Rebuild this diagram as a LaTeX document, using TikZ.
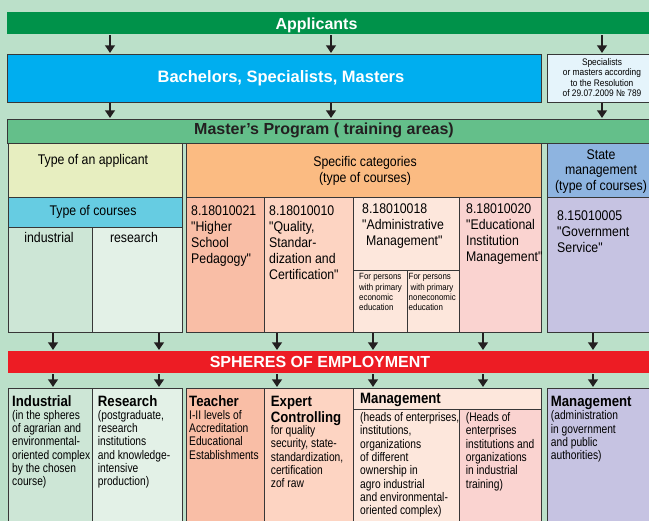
\documentclass[tikz,border=0pt]{standalone}
\usepackage{fontspec}
\setmainfont{Liberation Sans}
\newfontfamily\nfont[FakeStretch=0.88]{Liberation Sans}
\newfontfamily\cfont[FakeStretch=0.82]{Liberation Sans}
\usetikzlibrary{arrows.meta}
% first line of a stack sits on the node's base
\newcommand{\stackL}[1]{\begin{tabular}[t]{@{}l@{}}#1\end{tabular}}
\newcommand{\stackC}[1]{\begin{tabular}[t]{@{}c@{}}#1\end{tabular}}

\definecolor{bgmint}{RGB}{187,224,201}
\definecolor{appgreen}{RGB}{0,146,74}
\definecolor{bachblue}{RGB}{0,174,239}
\definecolor{specpale}{RGB}{229,244,251}
\definecolor{mastgreen}{RGB}{100,191,138}
\definecolor{typeyel}{RGB}{231,238,192}
\definecolor{coursecyan}{RGB}{102,204,226}
\definecolor{indgreen}{RGB}{205,230,214}
\definecolor{resgreen}{RGB}{227,241,231}
\definecolor{catorange}{RGB}{251,187,130}
\definecolor{hsped}{RGB}{249,190,166}
\definecolor{qualpink}{RGB}{253,212,194}
\definecolor{admpale}{RGB}{253,231,220}
\definecolor{edupink}{RGB}{250,211,208}
\definecolor{statehead}{RGB}{142,180,224}
\definecolor{statebody}{RGB}{198,195,226}
\definecolor{sphred}{RGB}{237,28,36}
\definecolor{linegray}{RGB}{55,55,55}
\definecolor{arrowblack}{RGB}{35,31,32}

\begin{document}
\begin{tikzpicture}[x=1pt,y=-1pt,
  cell/.style={draw=linegray,line width=0.9pt,inner sep=0pt,outer sep=0pt,anchor=north west},
  band/.style={inner sep=0pt,outer sep=0pt,anchor=north west},
  down/.style={line width=2.6pt,draw=arrowblack,shorten <=1.5pt,shorten >=1pt,-{Triangle[width=9.5pt,length=7.5pt]}},
  bigw/.style={text=white,font=\bfseries\fontsize{16}{18}\selectfont,anchor=base,inner sep=0pt},
  ttl/.style={font=\nfont\fontsize{14}{15.7}\selectfont,inner sep=0pt,anchor=base},
  lab/.style={font=\nfont\fontsize{14}{16}\selectfont,inner sep=0pt,anchor=base west},
  note/.style={font=\nfont\fontsize{9}{10.3}\selectfont,inner sep=0pt,anchor=base west},
  bhead/.style={font=\nfont\bfseries\fontsize{15}{15}\selectfont,inner sep=0pt,anchor=base west},
  body/.style={font=\cfont\fontsize{12.5}{13.3}\selectfont,inner sep=0pt,anchor=base west}]
  \useasboundingbox (0,0) rectangle (649,521);
  \clip (0,0) rectangle (649,521);
  \fill[bgmint] (0,0) rectangle (649,521);

  % top rows
  \node[band,fill=appgreen,minimum width=660,minimum height=22] (app) at (7,12) {};
  \node[cell,fill=bachblue,minimum width=534,minimum height=48] (bach) at (7,54) {};
  \node[cell,fill=specpale,minimum width=110,minimum height=48] (spec) at (547,54) {};
  \node[cell,fill=mastgreen,minimum width=660,minimum height=24] (mast) at (7,119) {};

  % training areas
  \node[cell,fill=typeyel,minimum width=174,minimum height=54] (typeap) at (8,143) {};
  \node[cell,fill=coursecyan,minimum width=174,minimum height=30] (courses) at (8,197) {};
  \node[cell,fill=indgreen,minimum width=84,minimum height=105] (ind) at (8,227) {};
  \node[cell,fill=resgreen,minimum width=90,minimum height=105] (res) at (92,227) {};
  \node[cell,fill=catorange,minimum width=355,minimum height=54] (cat) at (186,143) {};
  \node[cell,fill=hsped,minimum width=78,minimum height=135] (hsp) at (186,197) {};
  \node[cell,fill=qualpink,minimum width=89,minimum height=135] (qsc) at (264,197) {};
  \node[cell,fill=admpale,minimum width=106,minimum height=73] (adm) at (353,197) {};
  \node[cell,fill=admpale,minimum width=54,minimum height=62] (admeco) at (353,270) {};
  \node[cell,fill=admpale,minimum width=52,minimum height=62] (admnon) at (407,270) {};
  \node[cell,fill=edupink,minimum width=82,minimum height=135] (edu) at (459,197) {};
  \node[cell,fill=statehead,minimum width=110,minimum height=54] (sthead) at (547,143) {};
  \node[cell,fill=statebody,minimum width=110,minimum height=135] (stbody) at (547,197) {};

  % spheres of employment
  \node[band,fill=sphred,minimum width=660,minimum height=22] (sph) at (8,351) {};
  \node[cell,fill=indgreen,minimum width=84,minimum height=150] (bind) at (8,388) {};
  \node[cell,fill=resgreen,minimum width=90,minimum height=150] (bres) at (92,388) {};
  \node[cell,fill=hsped,minimum width=78,minimum height=150] (bteach) at (186,388) {};
  \node[cell,fill=qualpink,minimum width=89,minimum height=150] (bexp) at (264,388) {};
  \node[cell,fill=admpale,minimum width=188,minimum height=21] (bmgmt) at (353,388) {};
  \node[cell,fill=admpale,minimum width=106,minimum height=130] (bmleft) at (353,409) {};
  \node[cell,fill=edupink,minimum width=82,minimum height=130] (bmright) at (459,409) {};
  \node[cell,fill=statebody,minimum width=110,minimum height=150] (bstate) at (547,388) {};

  \foreach \x/\s/\t in {110/app/bach,331/app/bach,602/app/spec,110/bach/mast,331/bach/mast,602/spec/mast,
      53/ind/sph,159/res/sph,277/qsc/sph,373/admeco/sph,483/edu/sph,593/stbody/sph,
      53/sph/bind,159/sph/bres,277/sph/bexp,373/sph/bmgmt,483/sph/bmgmt,593/sph/bstate}
    \draw[down] (\s.south -| \x,0) -- (\t.north -| \x,0);

  % texts
  \node[bigw] at (316.5,29.3) {Applicants};
  \node[bigw,font=\bfseries\fontsize{16.5}{18}\selectfont] at (281,82.7) {Bachelors, Specialists, Masters};
  \node[ttl,font=\nfont\fontsize{9.5}{10.3}\selectfont] at (602,65.7) {\stackC{Specialists\\or masters according\\to the Resolution\\of 29.07.2009 № 789}};
  \node[bigw,text=arrowblack] at (324,135) {Master’s Program ( training areas)};
  \node[ttl] at (93,165) {Type of an applicant};
  \node[ttl] at (93,216) {Type of courses};
  \node[ttl] at (49,242.7) {industrial};
  \node[ttl] at (134,242.7) {research};
  \node[ttl,font=\nfont\fontsize{14}{16}\selectfont] at (365,167) {\stackC{Specific categories\\(type of courses)}};
  \node[ttl] at (601,159.3) {\stackC{State\\management\\(type of courses)}};
  \node[lab] at (191,216) {\stackL{8.18010021\\"Higher\\School\\Pedagogy"}};
  \node[lab] at (269,216) {\stackL{8.18010010\\"Quality,\\Standar-\\dization and\\Certification"}};
  \node[lab] at (362,214) {\stackL{8.18010018\\"Administrative\\\hspace*{4pt}Management"}};
  \node[lab] at (466,214) {\stackL{8.18010020\\"Educational\\Institution\\Management"}};
  \node[note] at (359,280) {\stackL{For persons\\with primary\\economic\\education}};
  \node[note] at (408.5,280) {\stackL{For persons\\\hspace*{2pt}with primary\\noneconomic\\education}};
  \node[lab] at (557,221) {\stackL{8.15010005\\"Government\\Service"}};
  \node[bigw] at (320,367.7) {SPHERES OF EMPLOYMENT};

  \node[bhead] at (12,406.7) {Industrial};
  \node[body] at (12,419.3) {\stackL{(in the spheres\\of agrarian and\\environmental-\\oriented complex\\by the chosen\\course)}};
  \node[bhead] at (97.7,406.7) {Research};
  \node[body] at (97.7,419.3) {\stackL{(postgraduate,\\research\\institutions\\and knowledge-\\intensive\\production)}};
  \node[bhead] at (189,406.7) {Teacher};
  \node[body] at (189,419.3) {\stackL{I-II levels of\\Accreditation\\Educational\\Establishments}};
  \node[bhead] at (270.7,406.7) {\stackL{Expert\\Controlling}};
  \node[body] at (270.7,434.5) {\stackL{for quality\\security, state-\\standardization,\\certification\\zof raw}};
  \node[bhead] at (360,403.3) {Management};
  \node[body] at (360,421.7) {\stackL{(heads of enterprises,\\institutions,\\organizations\\of different\\ownership in\\agro industrial\\and environmental-\\oriented complex)}};
  \node[body] at (465.7,421.7) {\stackL{(Heads of\\enterprises\\institutions and\\organizations\\in industrial\\training)}};
  \node[bhead] at (550.7,406.7) {Management};
  \node[body] at (550.7,420) {\stackL{(administration\\in government\\and public\\authorities)}};
\end{tikzpicture}
\end{document}
